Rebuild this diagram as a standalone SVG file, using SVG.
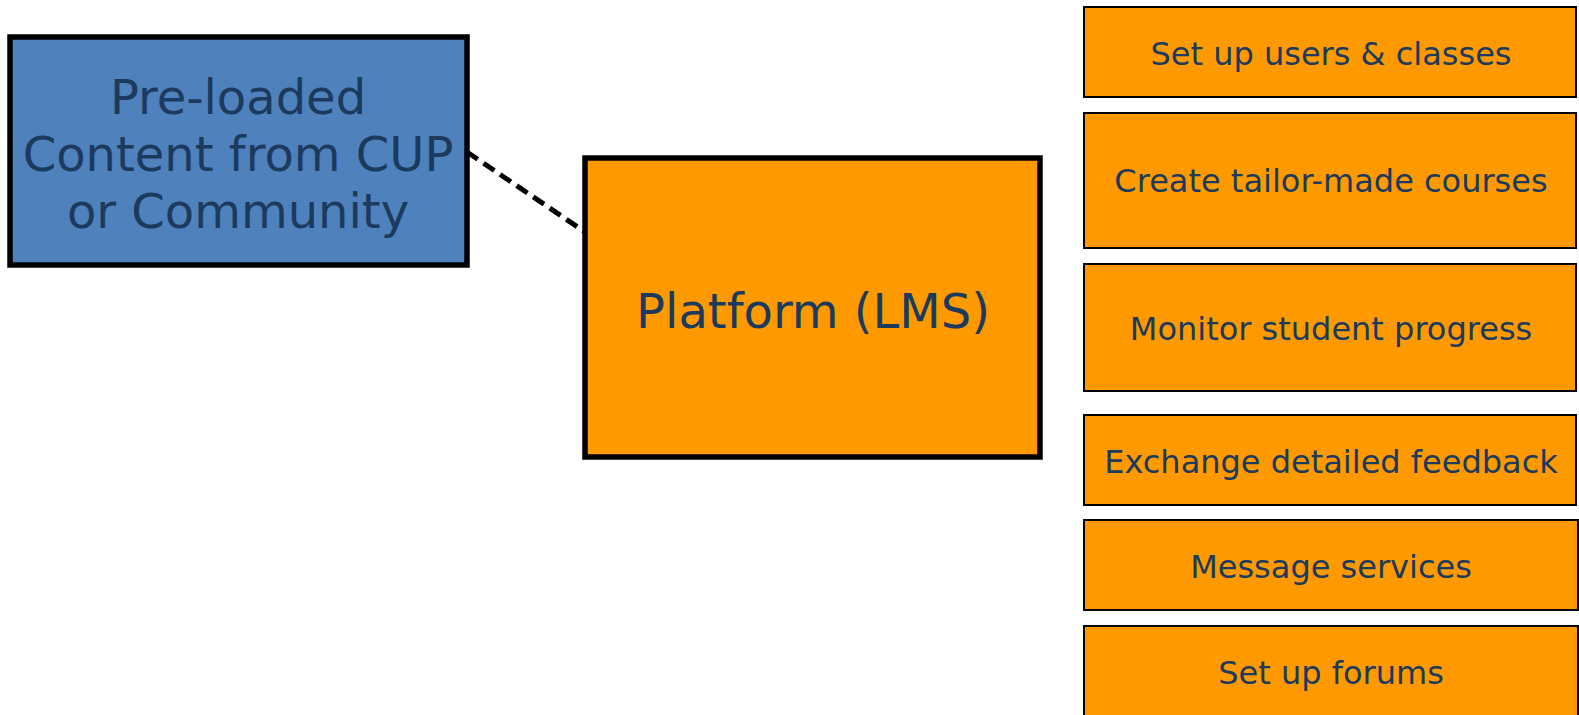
<svg xmlns="http://www.w3.org/2000/svg" width="1579" height="715" viewBox="0 0 1579 715">
<style>
.t{font-family:"DejaVu Sans","Verdana",sans-serif;fill:#1B3A5E;text-anchor:middle}
.big{font-size:48px}
.sm{font-size:32px}
.main{stroke:#000;stroke-width:5.5}
.item{fill:#FF9900;stroke:#000;stroke-width:2}
</style>
<rect width="1579" height="715" fill="#fff"/>
<g id="connectors">
<line x1="467" y1="152" x2="585" y2="232" stroke="#000" stroke-width="5" stroke-dasharray="13,7"/>
</g>
<g id="content">
<rect class="main" x="10" y="37" width="457" height="228" fill="#4F81BD"/>
<text class="t big" x="238" y="114">Pre-loaded</text>
<text class="t big" x="238" y="171">Content from CUP</text>
<text class="t big" x="238" y="228">or Community</text>
</g>
<g id="platform">
<rect class="main" x="585" y="158" width="455" height="299" fill="#FF9900"/>
<text class="t big" x="813" y="328">Platform (LMS)</text>
</g>
<g id="users">
<rect class="item" x="1084" y="7" width="492" height="90"/>
<text class="t sm" x="1331" y="65">Set up users &amp; classes</text>
</g>
<g id="courses">
<rect class="item" x="1084" y="113" width="492" height="135"/>
<text class="t sm" x="1331" y="192">Create tailor-made courses</text>
</g>
<g id="monitor">
<rect class="item" x="1084" y="264" width="492" height="127"/>
<text class="t sm" x="1331" y="340">Monitor student progress</text>
</g>
<g id="feedback">
<rect class="item" x="1084" y="415" width="492" height="90"/>
<text class="t sm" x="1331" y="473">Exchange detailed feedback</text>
</g>
<g id="messages">
<rect class="item" x="1084" y="520" width="494" height="90"/>
<text class="t sm" x="1331" y="578">Message services</text>
</g>
<g id="forums">
<rect class="item" x="1084" y="626" width="494" height="95"/>
<text class="t sm" x="1331" y="684">Set up forums</text>
</g>
</svg>
